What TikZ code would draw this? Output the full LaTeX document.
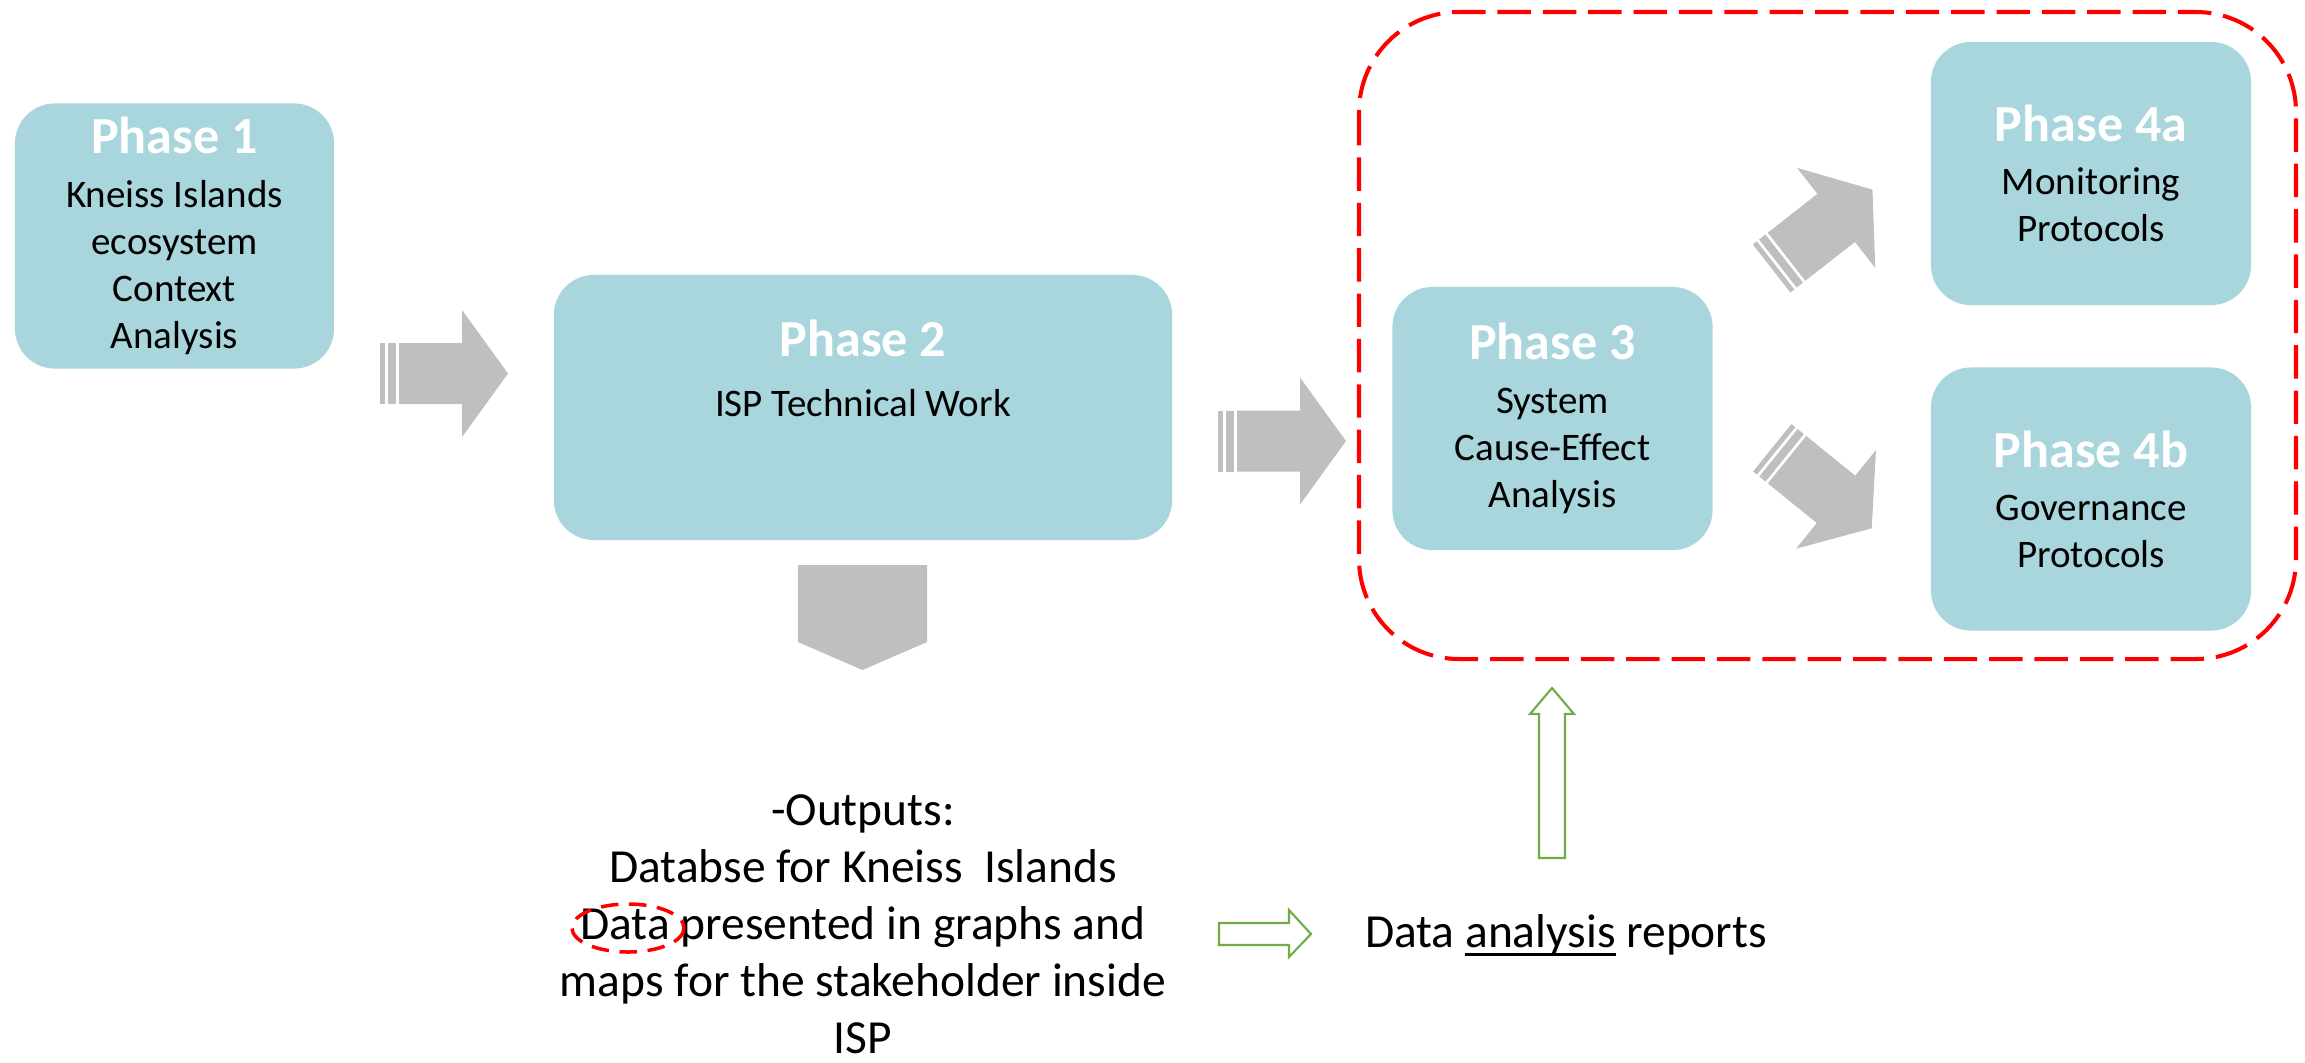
\documentclass[tikz,border=0pt]{standalone}
\usepackage{fontspec}
\setmainfont{Carlito}
\usepackage{xcolor}
\usepackage{tikz}
\usetikzlibrary{shapes,arrows,positioning,calc,arrows.meta}

\definecolor{boxteal}{RGB}{168,214,220}
\definecolor{arrowgrey}{RGB}{191,191,191}
\definecolor{outlinegreen}{RGB}{112,173,71}
\newcommand{\phasetitle}{\fontsize{14.8}{17}\selectfont\bfseries\color{white}}
\newcommand{\underword}[1]{\setbox0\hbox{#1}\rlap{\rule[-2.3pt]{\wd0}{0.7pt}}\box0\relax}

\tikzset{pics/grey arrow/.style={code={
    \fill[arrowgrey] (-64,-30.5) rectangle (-59,30.5);
    \fill[arrowgrey] (-56,-30.5) rectangle (-48,30.5);
    \fill[arrowgrey] (-45,-30.5) -- (18,-30.5) -- (18,-63.5) -- (64,0) -- (18,63.5) -- (18,30.5) -- (-45,30.5) -- cycle;
}}}

\begin{document}
\begin{tikzpicture}[x=0.01cm, y=-0.01cm,
    phase block/.style={fill=boxteal, rounded corners=0.4cm, align=center, inner sep=0pt, minimum width=3.2cm, minimum height=2.63cm, font=\fontsize{11.1}{13.4}\selectfont},
    hollow arrow/.style={draw=outlinegreen, line width=0.6pt, fill=white},
    red ring/.style={draw=red, dash pattern=on 5pt off 3pt, line width=1pt}]
    \useasboundingbox (0,0) rectangle (2305,1062);

    \node[phase block, minimum width=3.19cm, minimum height=2.65cm] (ph1) at (174.5,236) {{\phasetitle Phase 1}\\[1.7pt] Kneiss Islands\\ ecosystem\\ Context\\ Analysis};
    \node[phase block, minimum width=6.18cm, minimum height=2.65cm] (ph2) at (863,407.5) {};
    \node[align=center, font=\fontsize{11.1}{13.4}\selectfont] (ph2txt) at (863,368) {{\phasetitle Phase 2}\\[3.6pt] ISP Technical Work};
    \node[phase block] (ph3) at (1552.5,418.5) {{\phasetitle Phase 3}\\[1.7pt] System\\ Cause-Effect\\ Analysis};
    \node[phase block] (ph4a) at (2091,173.5) {{\phasetitle Phase 4a}\\[1.7pt] Monitoring\\ Protocols};
    \node[phase block] (ph4b) at (2091,499) {{\phasetitle Phase 4b}\\[1.7pt] Governance\\ Protocols};

    \draw[red, dash pattern=on 9.5pt off 3.4pt, line width=1.15pt, rounded corners=1cm] (1359,12) rectangle (2296,659);

    \pic at (444,373.5) {grey arrow};
    \pic at (1282,441) {grey arrow};
    \pic[rotate=38] at (1822,229) {grey arrow};
    \pic[rotate=-39] at (1822,488) {grey arrow};
    \fill[arrowgrey] (798,565) -- (927,565) -- (927,642) -- (862.5,670) -- (798,642) -- cycle;

    \node[anchor=north, align=center, inner sep=0pt, font=\fontsize{13.5}{16.2}\selectfont] (outputs) at (863,794) {-Outputs:\\ Databse for Kneiss\ \ Islands\\ Data presented in graphs and\\ maps for the stakeholder inside\\ ISP};
    \draw[red ring] (628,928) ellipse (56 and 24);

    \node[font=\fontsize{13.5}{16.2}\selectfont] (report) at (1566,935) {Data \underword{analysis} reports};

    \draw[hollow arrow] (1219,923) -- (1289,923) -- (1289,910) -- (1311,934) -- (1289,957) -- (1289,945) -- (1219,945) -- cycle;
    \draw[hollow arrow] (1539,858) -- (1539,714) -- (1530,714) -- (1552,688) -- (1574,714) -- (1565,714) -- (1565,858) -- cycle;
\end{tikzpicture}
\end{document}
